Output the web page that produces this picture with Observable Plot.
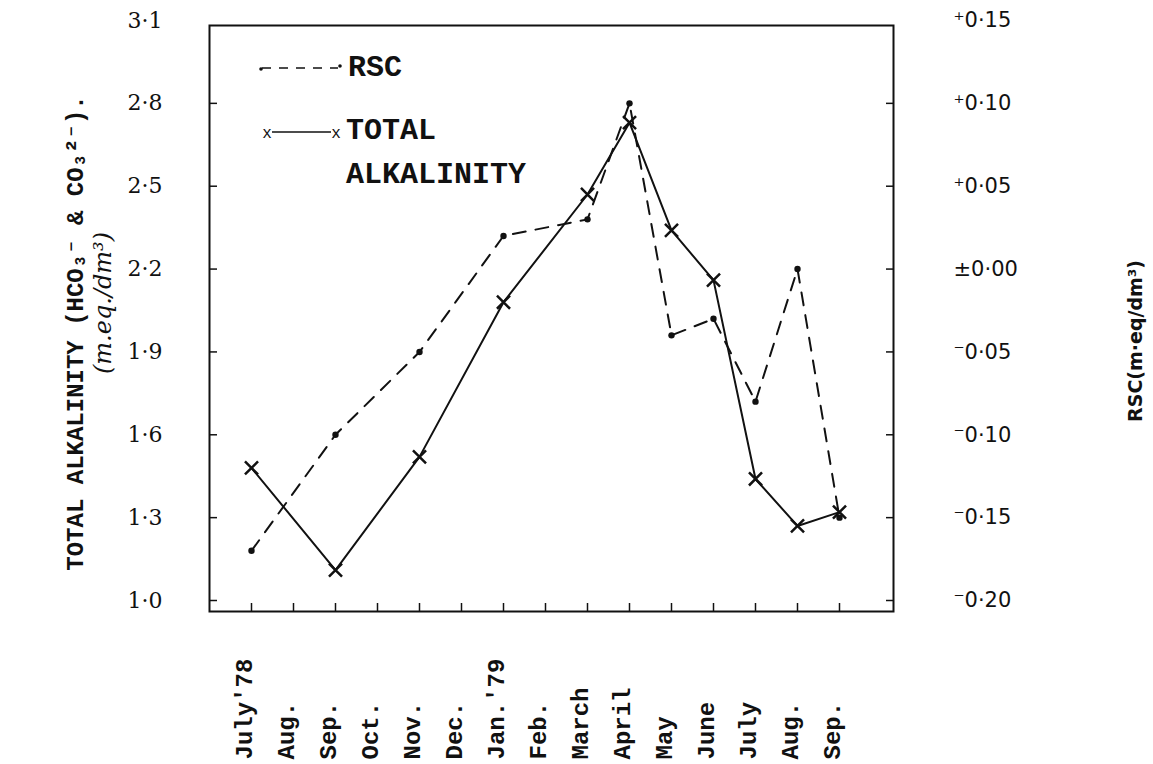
<!DOCTYPE html>
<html><head><meta charset="utf-8">
<script src="https://cdn.jsdelivr.net/npm/d3@7"></script>
<script src="https://cdn.jsdelivr.net/npm/@observablehq/plot@0.6"></script>
<style>
body{margin:0;background:#fff}
#chart svg{display:block}
</style>
</head><body><div id="chart"></div>
<script>
// ---- data ----
const monthLabels = ["July'78","Aug.","Sep.","Oct.","Nov.","Dec.","Jan.'79","Feb.","March","April","May","June","July","Aug.","Sep."];
const alkMonths = [0,2,4,6,8,9,10,11,12,13,14];
const alkValues = [1.48,1.11,1.52,2.08,2.47,2.73,2.34,2.16,1.44,1.27,1.32];
const rscMonths = [0,2,4,6,8,9,10,11,12,13,14];
const rscValues = [-0.17,-0.10,-0.05,0.02,0.03,0.10,-0.04,-0.03,-0.08,0.00,-0.15];
const leftTicks = [1.0,1.3,1.6,1.9,2.2,2.5,2.8,3.1];
const rightTicks = [-0.20,-0.15,-0.10,-0.05,0.00,0.05,0.10,0.15];

// right (RSC) axis is drawn on the left scale: 3.1 <-> +0.15, 1.0 <-> -0.20
const rscToLeft = r => 1 + (r + 0.20) * 6;
const leftToRsc = v => (v - 1) / 6 - 0.20;

const alk = alkMonths.map((m, i) => ({m, v: alkValues[i]}));
const rsc = rscMonths.map((m, i) => ({m, v: rscToLeft(rscValues[i])}));
const months = monthLabels.map((l, i) => ({m: i, l}));

const fmtLeft = d => d.toFixed(1).replace(".", "·");
const fmtRsc = v => {
  const r = Math.round(leftToRsc(v) * 100);
  const s = "0·" + String(Math.abs(r)).padStart(2, "0");
  return (r > 0 ? "⁺" : r < 0 ? "⁻" : "±") + s;
};

const mono = "Liberation Mono, DejaVu Sans Mono, monospace";
const hand = "DejaVu Serif, serif";

const W = 1153, H = 764;
const innerLeft = leftTicks.slice(0, -1);
const innerRight = rightTicks.slice(0, -1).map(rscToLeft);
const chart = Plot.plot({
  width: W, height: H,
  marginLeft: 209, marginRight: W - 893, marginTop: 20, marginBottom: H - 611,
  insetBottom: 11, insetLeft: 38, insetRight: 50,
  style: {background: "#fff", color: "#111"},
  x: {type: "point", domain: d3.range(15), padding: 0},
  y: {domain: [1.0, 3.1]},
  marks: [
    Plot.frame({insetTop: 5, stroke: "#111", strokeWidth: 2}),
    // inward tick marks
    Plot.axisX({anchor: "bottom", tickSize: -8, tickFormat: () => "", label: null, strokeWidth: 1.5}),
    Plot.axisY({anchor: "left", ticks: innerLeft, tickSize: -8, tickFormat: () => "", label: null, strokeWidth: 1.5}),
    Plot.axisY({anchor: "right", ticks: innerRight, tickSize: -8, tickFormat: () => "", label: null, strokeWidth: 1.5}),
    // tick labels
    Plot.axisY({anchor: "left", ticks: leftTicks, tickSize: 0, tickPadding: 47, tickFormat: fmtLeft, label: null,
      fontSize: 22, fontFamily: hand}),
    Plot.axisY({anchor: "right", ticks: rightTicks.map(rscToLeft), tickSize: 0, tickPadding: 60, tickFormat: fmtRsc, label: null,
      fontSize: 21, fontFamily: "DejaVu Sans, sans-serif", textAnchor: "start"}),
    Plot.text(months, {x: "m", text: "l", frameAnchor: "bottom", dy: 148, rotate: -90, textAnchor: "start",
      fontFamily: mono, fontWeight: "bold", fontSize: 24, fill: "#111"}),
    // axis titles
    Plot.text(["TOTAL ALKALINITY (HCO₃⁻ & CO₃²⁻)."], {frameAnchor: "left", textAnchor: "middle", dx: -134, dy: 17, rotate: -90,
      fontFamily: mono, fontWeight: "bold", fontSize: 24, fill: "#111"}),
    Plot.text(["(m.eq./dm³)"], {frameAnchor: "left", textAnchor: "middle", dx: -106, dy: -13, rotate: -90,
      fontFamily: hand, fontStyle: "italic", fontSize: 24, fill: "#111"}),
    Plot.text(["RSC(m·eq/dm³)"], {frameAnchor: "right", textAnchor: "middle", dx: 242, dy: 25, rotate: -90,
      fontFamily: "DejaVu Sans, sans-serif", fontWeight: "bold", fontSize: 19, fill: "#111"}),
    // series
    Plot.line(rsc, {x: "m", y: "v", stroke: "#111", strokeWidth: 2, strokeDasharray: "13,10"}),
    Plot.dot(rsc, {x: "m", y: "v", r: 3.2, fill: "#111"}),
    Plot.line(alk, {x: "m", y: "v", stroke: "#111", strokeWidth: 2}),
    Plot.dot(alk, {x: "m", y: "v", symbol: "times", r: 6, stroke: "#111", strokeWidth: 2.5})
  ]
});
document.getElementById("chart").append(chart);

// legend inside the frame (top-left)
const svg = d3.select(chart);
const lg = svg.append("g").attr("fill", "#111").attr("stroke", "#111").attr("text-anchor", "start");
lg.append("line").attr("x1", 262).attr("x2", 338).attr("y1", 68).attr("y2", 68)
  .attr("stroke-width", 1.5).attr("stroke-dasharray", "9,8");
lg.append("circle").attr("cx", 261).attr("cy", 69).attr("r", 1.8).attr("stroke", "none");
lg.append("circle").attr("cx", 340).attr("cy", 66).attr("r", 1.8).attr("stroke", "none");
lg.append("text").attr("x", 348).attr("y", 65).attr("dy", "0.35em").attr("stroke", "none")
  .attr("font-family", mono).attr("font-weight", "bold").attr("font-size", 30).text("RSC");
lg.append("line").attr("x1", 272).attr("x2", 331).attr("y1", 132).attr("y2", 132).attr("stroke-width", 1.5);
lg.append("text").attr("x", 267).attr("y", 133).attr("dy", "0.3em").attr("text-anchor", "middle").attr("stroke", "none")
  .attr("font-family", mono).attr("font-size", 16).text("x");
lg.append("text").attr("x", 336).attr("y", 133).attr("dy", "0.3em").attr("text-anchor", "middle").attr("stroke", "none")
  .attr("font-family", mono).attr("font-size", 16).text("x");
lg.append("text").attr("x", 346).attr("y", 128).attr("dy", "0.35em").attr("stroke", "none")
  .attr("font-family", mono).attr("font-weight", "bold").attr("font-size", 30).text("TOTAL");
lg.append("text").attr("x", 346).attr("y", 172).attr("dy", "0.35em").attr("stroke", "none")
  .attr("font-family", mono).attr("font-weight", "bold").attr("font-size", 30).text("ALKALINITY");
</script>
</body></html>
